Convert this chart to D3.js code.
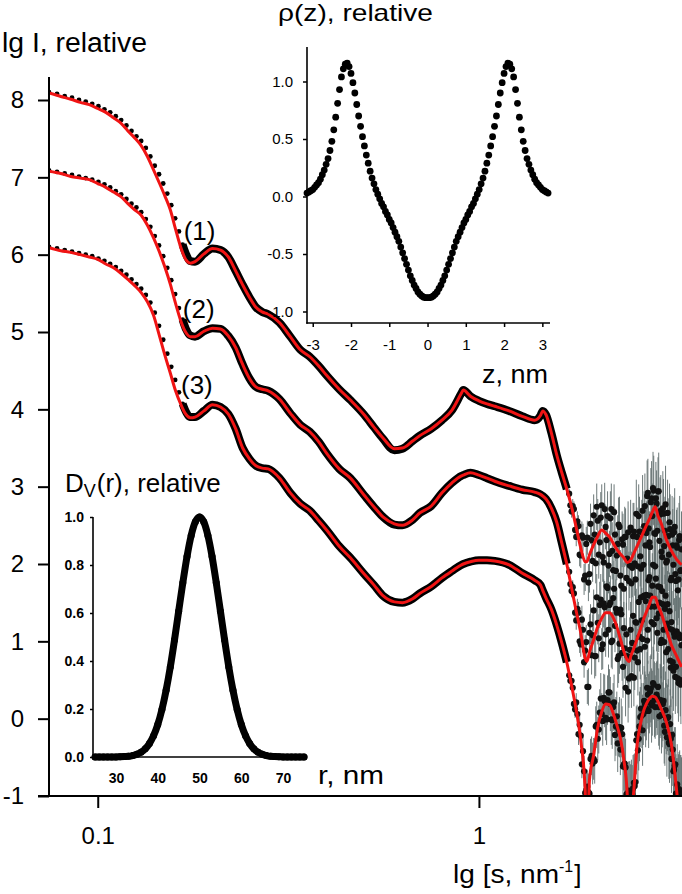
<!DOCTYPE html>
<html>
<head>
<meta charset="utf-8">
<title>Scattering curves</title>
<script src="https://cdn.jsdelivr.net/npm/d3@7"></script>
<style>
  body { margin: 0; background: #fff; }
  svg { display: block; font-family: "Liberation Sans", Arial, sans-serif; }
</style>
</head>
<body>
<svg width="682" height="894"></svg>
<script>

// ---- main plot: fitted curves (red), s in nm^-1, values are lg I
var sFit = [0.0745,0.08,0.085,0.09,0.095,0.1,0.105,0.11,0.115,0.12,
  0.125,0.13,0.135,0.14,0.145,0.15,0.155,0.16,0.165,0.17,
  0.175,0.18,0.19,0.2,0.21,0.22,0.23,0.24,0.25,0.26,
  0.27,0.28,0.3,0.32,0.34,0.36,0.38,0.4,0.43,0.46,
  0.5,0.53,0.56,0.6,0.63,0.67,0.7,0.75,0.8,0.85,
  0.9,0.91,0.95,1.0,1.05,1.1,1.2,1.3,1.4,1.45,
  1.47,1.5,1.55,1.6,1.65,1.7,1.75,1.8,1.85,1.9,
  1.92,1.95,2.0,2.05,2.1,2.15,2.2,2.25,2.3,2.35,
  2.4,2.45,2.48,2.5,2.55,2.6,2.65,2.7,2.75,2.8,
  2.85,2.9,2.95,3.0,3.1,3.2,3.3,3.4];

var fit1 = [8.09,8.045,8.01,7.97,7.94,7.89,7.84,7.77,7.70,7.60,
  7.51,7.41,7.27,7.10,6.93,6.76,6.58,6.33,6.10,5.94,
  5.89,5.91,6.01,6.08,6.06,5.97,5.79,5.61,5.45,5.32,
  5.26,5.23,5.12,4.94,4.77,4.68,4.56,4.43,4.26,4.12,
  3.93,3.77,3.63,3.49,3.50,3.59,3.66,3.75,3.86,3.99,
  4.21,4.25,4.17,4.11,4.07,4.04,3.98,3.91,3.86,3.92,
  3.98,3.93,3.69,3.41,3.18,2.97,2.74,2.47,2.21,2.03,
  2.03,2.12,2.25,2.36,2.44,2.40,2.35,2.27,2.19,2.13,
  2.08,2.02,2.03,2.05,2.14,2.23,2.32,2.41,2.50,2.58,
  2.67,2.74,2.62,2.54,2.32,2.17,2.06,1.99];

var fit2 = [7.08,7.05,7.01,6.99,6.97,6.92,6.87,6.81,6.75,6.66,
  6.58,6.51,6.38,6.22,6.04,5.84,5.62,5.37,5.15,5.00,
  4.94,4.94,5.01,5.05,5.04,4.95,4.80,4.58,4.40,4.29,
  4.26,4.24,4.13,3.95,3.80,3.71,3.58,3.42,3.23,3.11,
  2.89,2.74,2.61,2.52,2.50,2.57,2.66,2.75,2.92,3.05,
  3.14,3.15,3.18,3.15,3.11,3.07,3.01,2.96,2.93,2.90,
  2.88,2.84,2.72,2.54,2.27,2.00,1.69,1.39,1.11,0.78,
  0.74,0.86,1.02,1.19,1.30,1.37,1.37,1.31,1.19,1.03,
  0.87,0.76,0.74,0.80,0.91,1.03,1.15,1.28,1.38,1.48,
  1.57,1.57,1.46,1.38,1.16,0.95,0.81,0.67];

var fit3 = [6.09,6.05,6.03,6.00,5.97,5.94,5.88,5.83,5.76,5.68,
  5.60,5.51,5.39,5.22,4.96,4.70,4.47,4.24,4.07,3.94,
  3.89,3.90,3.98,4.06,4.03,3.94,3.75,3.50,3.36,3.27,
  3.24,3.23,3.11,2.92,2.78,2.69,2.56,2.43,2.23,2.08,
  1.87,1.73,1.59,1.51,1.50,1.55,1.62,1.71,1.82,1.91,
  1.99,2.00,2.03,2.05,2.05,2.04,1.99,1.88,1.79,1.73,
  1.66,1.56,1.41,1.21,0.98,0.73,0.43,0.11,-0.28,-0.92,
  -1.8,-0.79,-0.47,-0.11,0.09,0.19,0.18,0.07,-0.08,-0.25,
  -0.53,-0.99,-1.8,-1.4,-0.92,-0.34,-0.08,0.09,0.19,0.26,
  0.29,0.28,0.22,0.14,-0.04,-0.34,-0.92,-1.6];

// ---- experimental points, low and middle s
var sExp = [0.0745,0.0782,0.0819,0.0856,0.0893,0.093,0.0967,0.1004,0.1041,0.1078,
  0.1115,0.1152,0.1189,0.1226,0.1263,0.13,0.1337,0.1374,0.1411,0.1448,
  0.1485,0.1522,0.1559,0.1596,0.1633,0.167,0.1707,0.1744,
  0.18,0.19,0.2,0.21,0.22,0.23,0.24,0.25,0.26,0.27,
  0.28,0.3,0.32,0.34,0.36,0.38,0.4,0.43,0.46,0.5,
  0.53,0.56,0.6,0.63,0.67,0.7,0.75,0.8,0.85,0.9,
  0.91,0.95,1.0,1.05,1.1,1.2,1.3,1.4,1.45,1.47,
  1.5,1.55,1.6,1.65,1.7];

var exp1 = [8.10,8.08,8.05,8.03,8.00,7.98,7.95,7.92,7.88,7.84,
  7.79,7.74,7.67,7.60,7.53,7.47,7.38,7.27,7.15,7.04,
  6.92,6.79,6.64,6.47,6.30,6.13,6.00,5.92,
  5.91,6.01,6.08,6.06,5.97,5.79,5.61,5.45,5.32,5.26,
  5.23,5.12,4.94,4.77,4.68,4.56,4.43,4.26,4.12,3.93,
  3.77,3.62,3.47,3.49,3.59,3.66,3.75,3.86,3.99,4.21,
  4.25,4.17,4.11,4.07,4.04,3.98,3.91,3.86,3.92,3.98,
  3.93,3.69,3.41,3.18,2.97];

var exp2 = [7.09,7.07,7.05,7.03,7.01,6.99,6.97,6.94,6.91,6.87,
  6.82,6.78,6.72,6.66,6.61,6.55,6.46,6.36,6.24,6.12,
  5.98,5.83,5.67,5.49,5.31,5.16,5.03,4.96,
  4.94,5.01,5.05,5.04,4.95,4.80,4.58,4.40,4.29,4.26,
  4.24,4.13,3.95,3.80,3.71,3.58,3.42,3.23,3.11,2.89,
  2.74,2.61,2.51,2.50,2.57,2.66,2.75,2.92,3.05,3.14,
  3.15,3.18,3.15,3.11,3.07,3.01,2.96,2.93,2.90,2.88,
  2.84,2.72,2.54,2.27,2.00];

var exp3 = [6.10,6.08,6.06,6.04,6.02,6.00,5.98,5.95,5.92,5.88,
  5.84,5.79,5.74,5.68,5.62,5.56,5.48,5.38,5.25,5.08,
  4.90,4.72,4.55,4.38,4.22,4.07,3.96,3.90,
  3.90,3.98,4.06,4.03,3.94,3.75,3.50,3.36,3.27,3.24,
  3.23,3.11,2.92,2.78,2.69,2.56,2.43,2.23,2.08,1.87,
  1.73,1.59,1.51,1.50,1.55,1.62,1.71,1.82,1.91,1.99,
  2.00,2.03,2.05,2.05,2.04,1.99,1.88,1.79,1.73,1.66,
  1.56,1.41,1.21,0.98,0.73];

// ---- experimental points, noisy high-s tail (with error bars)
var sTail = [1.725,1.7375,1.75,1.7625,1.775,1.7875,1.8,1.8125,1.825,1.8375,
  1.85,1.8625,1.875,1.8875,1.9,1.9125,1.925,1.9375,1.95,1.9625,
  1.975,1.9875,2.0,2.0125,2.025,2.0375,2.05,2.0625,2.075,2.0875,
  2.1,2.1125,2.125,2.1375,2.15,2.1625,2.175,2.1875,2.2,2.2125,
  2.225,2.2375,2.25,2.2625,2.275,2.2875,2.3,2.3125,2.325,2.3375,
  2.35,2.3625,2.375,2.3875,2.4,2.4125,2.425,2.4375,2.45,2.4625,
  2.475,2.4875,2.5,2.5125,2.525,2.5375,2.55,2.5625,2.575,2.5875,
  2.6,2.6125,2.625,2.6375,2.65,2.6625,2.675,2.6875,2.7,2.7125,
  2.725,2.7375,2.75,2.7625,2.775,2.7875,2.8,2.8125,2.825,2.8375,
  2.85,2.8625,2.875,2.8875,2.9,2.9125,2.925,2.9375,2.95,2.9625,
  2.975,2.9875,3.0,3.0125,3.025,3.0375,3.05,3.0625,3.075,3.0875,
  3.1,3.1125,3.125,3.1375,3.15,3.1625,3.175,3.1875,3.2,3.2125,
  3.225,3.2375,3.25,3.2625,3.275,3.2875,3.3,3.3125,3.325,3.3375,
  3.35,3.3625,3.375,3.3875,3.4];

var tail1 = [2.91,2.76,2.68,2.75,2.71,2.44,2.35,2.55,2.49,2.12,
  2.11,2.37,2.34,1.80,1.85,2.26,2.34,1.76,1.87,2.52,
  2.31,2.04,2.63,2.38,2.01,2.74,2.56,2.12,2.28,2.60,
  2.76,2.09,2.02,2.71,2.48,2.31,2.62,1.98,2.13,2.59,
  2.71,2.17,1.92,2.67,2.38,1.91,2.11,2.26,2.51,2.48,
  1.85,1.72,2.32,2.25,1.68,2.35,2.35,1.82,2.07,2.41,
  1.78,1.98,2.47,1.75,1.95,2.36,2.42,2.01,1.80,2.65,
  2.35,1.97,2.62,2.42,2.10,1.94,2.41,2.69,1.99,2.49,
  2.75,2.24,2.40,2.88,2.92,2.46,2.28,2.22,2.80,2.85,
  2.62,2.98,2.95,2.40,2.39,2.85,2.78,2.43,2.94,2.94,
  2.30,2.64,2.69,2.16,2.09,2.72,2.65,2.23,2.43,2.77,
  2.02,2.04,2.66,2.36,2.12,2.54,2.45,1.79,1.82,2.38,
  2.24,1.99,2.41,2.48,1.87,1.78,2.24,2.21,1.66,1.80,
  2.31,2.36,1.91,1.92,2.19];

var tail2 = [1.90,1.74,1.65,1.70,1.62,1.37,1.27,1.42,1.37,1.00,
  0.96,1.28,1.15,0.73,0.88,0.99,0.41,0.41,1.11,1.22,
  0.82,1.08,1.40,0.81,0.81,1.57,1.24,1.04,1.47,1.54,
  0.90,0.96,1.49,1.44,1.09,1.71,1.69,1.15,1.47,1.50,
  0.99,1.01,1.56,1.68,1.20,1.42,1.37,0.77,0.81,0.97,
  1.41,1.35,0.85,0.67,1.17,0.91,0.40,1.09,0.81,0.35,
  0.52,0.89,1.15,0.55,0.98,1.33,0.53,0.79,1.25,1.24,
  0.88,0.73,1.51,1.06,0.90,1.57,1.27,1.03,1.58,1.59,
  0.93,1.52,1.60,1.01,1.15,1.79,1.83,1.59,1.45,1.25,
  1.72,1.99,1.22,1.45,1.97,1.81,1.30,1.11,1.71,1.36,
  1.50,1.70,0.98,1.02,1.65,1.48,1.15,0.99,1.42,1.59,
  0.86,1.23,1.48,0.90,1.17,1.39,0.75,0.66,1.25,1.15,
  0.73,0.62,1.10,1.06,0.54,0.67,1.13,1.09,0.52,0.46,
  1.09,1.04,0.50,0.44,0.95];

var tail3 = [0.56,0.49,0.49,0.40,0.19,0.12,0.21,0.06,-0.20,-0.08,
  -0.22,-0.59,-0.42,-0.68,-0.96,-0.92,-0.88,-0.95,-0.97,-0.52,
  -0.48,-0.58,-0.52,-0.55,-0.10,-0.08,-0.26,-0.14,0.08,0.26,
  0.06,-0.03,0.27,0.23,0.01,-0.01,0.24,0.34,0.34,0.19,
  -0.01,-0.02,0.15,0.21,-0.21,-0.10,0.03,-0.32,-0.14,-0.11,
  -0.40,-0.12,-0.20,-0.62,-0.59,-0.58,-0.63,-0.98,-0.97,-0.96,
  -0.93,-0.97,-0.95,-0.94,-0.98,-0.90,-0.83,-0.87,-0.82,-0.28,
  -0.20,-0.41,-0.26,-0.10,0.02,0.13,0.04,-0.15,0.06,0.23,
  0.19,0.10,0.13,0.40,0.31,0.10,0.21,0.35,0.39,0.17,
  0.20,0.46,0.44,0.25,0.15,0.25,0.31,0.27,0.41,0.15,
  0.03,0.23,0.24,0.05,0.05,0.19,0.23,-0.09,-0.17,0.11,
  0.00,-0.24,0.01,0.02,-0.31,-0.33,-0.07,-0.26,-0.52,-0.21,
  -0.40,-0.68,-0.66,-0.61,-0.59,-0.97,-0.97,-0.85,-0.96,-0.96,
  -0.91,-0.93,-0.94,-0.98,-0.99];

var tailErr = [0.06,0.07,0.08,0.09,0.10,0.11,0.12,0.13,0.14,0.15,
  0.16,0.18,0.18,0.20,0.20,0.22,0.22,0.24,0.24,0.26,
  0.25,0.27,0.27,0.29,0.26,0.30,0.28,0.31,0.30,0.33,
  0.27,0.32,0.31,0.34,0.29,0.33,0.32,0.36,0.30,0.35,
  0.33,0.37,0.31,0.36,0.34,0.38,0.32,0.37,0.35,0.39,
  0.33,0.38,0.36,0.40,0.34,0.39,0.37,0.41,0.35,0.40,
  0.38,0.42,0.36,0.41,0.38,0.43,0.37,0.42,0.40,0.44,
  0.38,0.43,0.41,0.45,0.39,0.44,0.42,0.46,0.40,0.45,
  0.42,0.47,0.41,0.46,0.44,0.48,0.40,0.46,0.44,0.48,
  0.42,0.47,0.45,0.49,0.41,0.47,0.43,0.48,0.44,0.50,
  0.43,0.48,0.46,0.50,0.42,0.48,0.45,0.49,0.44,0.50,
  0.46,0.51,0.43,0.49,0.47,0.50,0.45,0.51,0.44,0.50,
  0.47,0.52,0.45,0.50,0.48,0.51,0.46,0.52,0.45,0.50,
  0.48,0.52,0.47,0.51,0.49];

var curveNames = ["(1)", "(2)", "(3)"];
var mainYTicks = [-1, 0, 1, 2, 3, 4, 5, 6, 7, 8];
var mainXTicks = [0.1, 1];

// ---- inset: density profile
var zRho = [-3.15,-3.1,-3.05,-3.0,-2.95,-2.9,-2.85,-2.8,-2.75,-2.7,
  -2.65,-2.6,-2.55,-2.5,-2.45,-2.4,-2.35,-2.3,-2.25,-2.2,
  -2.15,-2.1,-2.05,-2.0,-1.95,-1.9,-1.85,-1.8,-1.75,-1.7,
  -1.65,-1.6,-1.55,-1.5,-1.45,-1.4,-1.35,-1.3,-1.25,-1.2,
  -1.15,-1.1,-1.05,-1.0,-0.95,-0.9,-0.85,-0.8,-0.75,-0.7,
  -0.65,-0.6,-0.55,-0.5,-0.45,-0.4,-0.35,-0.3,-0.25,-0.2,
  -0.15,-0.1,-0.05,0,0.05,0.1,0.15,0.2,0.25,0.3,
  0.35,0.4,0.45,0.5,0.55,0.6,0.65,0.7,0.75,0.8,
  0.85,0.9,0.95,1.0,1.05,1.1,1.15,1.2,1.25,1.3,
  1.35,1.4,1.45,1.5,1.55,1.6,1.65,1.7,1.75,1.8,
  1.85,1.9,1.95,2.0,2.05,2.1,2.15,2.2,2.25,2.3,
  2.35,2.4,2.45,2.5,2.55,2.6,2.65,2.7,2.75,2.8,
  2.85,2.9,2.95,3.0,3.05,3.1,3.15];

var rho = [0.03,0.04,0.05,0.06,0.08,0.10,0.12,0.15,0.19,0.23,
  0.28,0.33,0.40,0.48,0.58,0.69,0.81,0.93,1.04,1.11,
  1.15,1.16,1.13,1.07,0.99,0.90,0.80,0.70,0.61,0.52,
  0.44,0.36,0.29,0.22,0.16,0.11,0.06,0.02,-0.02,-0.06,
  -0.09,-0.13,-0.16,-0.20,-0.23,-0.27,-0.31,-0.35,-0.39,-0.44,
  -0.49,-0.54,-0.59,-0.64,-0.69,-0.73,-0.77,-0.80,-0.83,-0.85,
  -0.865,-0.875,-0.88,-0.88,-0.88,-0.875,-0.865,-0.85,-0.83,-0.80,
  -0.77,-0.73,-0.69,-0.64,-0.59,-0.54,-0.49,-0.44,-0.39,-0.35,
  -0.31,-0.27,-0.23,-0.20,-0.16,-0.13,-0.09,-0.06,-0.02,0.02,
  0.06,0.11,0.16,0.22,0.29,0.36,0.44,0.52,0.61,0.70,
  0.80,0.90,0.99,1.07,1.13,1.16,1.15,1.11,1.04,0.93,
  0.81,0.69,0.58,0.48,0.40,0.33,0.28,0.23,0.19,0.15,
  0.12,0.10,0.08,0.06,0.05,0.04,0.03];

var rhoXTicks = [-3, -2, -1, 0, 1, 2, 3];
var rhoYTicks = [-1, -0.5, 0, 0.5, 1];

// ---- inset: size distribution
var rDist = [25,26,27,28,29,30,31,32,33,34,
  35,36,37,38,39,40,41,42,43,44,
  45,46,47,48,49,50,51,52,53,54,
  55,56,57,58,59,60,61,62,63,64,
  65,66,67,68,69,70,71,72,73,74,75];

var dv = [0,0,0,0,0,0,0.001,0.002,0.003,0.006,
  0.011,0.020,0.034,0.056,0.089,0.135,0.198,0.278,0.375,0.487,
  0.607,0.726,0.835,0.923,0.980,1.000,0.980,0.923,0.835,0.726,
  0.607,0.487,0.375,0.278,0.198,0.135,0.089,0.056,0.034,0.020,
  0.011,0.006,0.003,0.002,0.001,0,0,0,0,0,0];

var dvXTicks = [30, 40, 50, 60, 70];
var dvYTicks = [0, 0.2, 0.4, 0.6, 0.8, 1.0];

// =====================================================
var svg = d3.select("svg");
var RED = "#f01414";

var x = d3.scaleLog().domain([0.0745, 3.41]).range([49, 682]);
var y = d3.scaleLinear().domain([-1, 8]).range([796, 100]);

svg.append("clipPath").attr("id", "plotClip")
  .append("rect").attr("x", 49).attr("y", 40).attr("width", 640).attr("height", 756);

var plot = svg.append("g").attr("clip-path", "url(#plotClip)");

var fits = [fit1, fit2, fit3],
    exps = [exp1, exp2, exp3],
    tails = [tail1, tail2, tail3];

// error bars of the noisy tail
tails.forEach(function(t) {
  plot.append("g").selectAll("line").data(t).enter().append("line")
    .attr("x1", function(d, i) { return x(sTail[i]); })
    .attr("x2", function(d, i) { return x(sTail[i]); })
    .attr("y1", function(d, i) { return y(d - tailErr[i]); })
    .attr("y2", function(d, i) { return y(d + tailErr[i]); })
    .attr("stroke", "#5e6c6c")
    .attr("stroke-width", 1)
    .attr("stroke-opacity", 0.9);
});

// dense experimental band + sparse points at low s
var bandLine = d3.line()
  .x(function(d) { return x(d[0]); })
  .y(function(d) { return y(d[1]); })
  .curve(d3.curveMonotoneX);

exps.forEach(function(e) {
  var pts = sExp.map(function(s, i) { return [s, e[i]]; });
  plot.append("path")
    .datum(pts.filter(function(d) { return d[0] >= 0.166; }))
    .attr("fill", "none")
    .attr("stroke", "#000")
    .attr("stroke-width", 8)
    .attr("stroke-linejoin", "round")
    .attr("d", bandLine);
  plot.append("g").selectAll("circle")
    .data(pts.filter(function(d) { return d[0] < 0.17; }))
    .enter().append("circle")
    .attr("cx", function(d) { return x(d[0]); })
    .attr("cy", function(d) { return y(d[1]); })
    .attr("r", 2.4)
    .attr("fill", "#000");
});

tails.forEach(function(t) {
  plot.append("g").selectAll("circle").data(t).enter().append("circle")
    .attr("cx", function(d, i) { return x(sTail[i]); })
    .attr("cy", function(d) { return y(d); })
    .attr("r", 3.1)
    .attr("fill", "#111");
});

// fitted curves
var fitLine = d3.line()
  .x(function(d, i) { return x(sFit[i]); })
  .y(function(d) { return y(d); })
  .curve(d3.curveMonotoneX);

fits.forEach(function(f) {
  plot.append("path")
    .datum(f)
    .attr("fill", "none")
    .attr("stroke", RED)
    .attr("stroke-width", 3)
    .attr("d", fitLine);
});

// curve labels
var labelAt = [[0.185, 6.19], [0.184, 5.18], [0.182, 4.20]];
svg.append("g").selectAll("text").data(curveNames).enter().append("text")
  .attr("x", function(d, i) { return x(labelAt[i][0]); })
  .attr("y", function(d, i) { return y(labelAt[i][1]); })
  .attr("text-anchor", "middle")
  .attr("font-size", 26)
  .text(function(d) { return d; });

// main axes
var yAxis = svg.append("g")
  .attr("transform", "translate(49,0)")
  .call(d3.axisLeft(y).tickValues(mainYTicks).tickSize(11).tickSizeOuter(0).tickPadding(14)
    .tickFormat(function(d) { return String(d); }));
yAxis.select(".domain").remove();
yAxis.selectAll("line").attr("stroke-width", 2);
yAxis.selectAll("text").attr("font-size", 24).attr("font-family", null).attr("fill", "#000");

var xAxis = svg.append("g")
  .attr("transform", "translate(0,796)")
  .call(d3.axisBottom(x).tickValues(mainXTicks).tickSize(12).tickSizeOuter(0).tickPadding(19)
    .tickFormat(function(d) { return d < 1 ? "0.1" : "1"; }));
xAxis.select(".domain").remove();
xAxis.selectAll("line").attr("stroke-width", 2);
xAxis.selectAll("text").attr("font-size", 24).attr("font-family", null).attr("fill", "#000");

svg.append("line").attr("x1", 49).attr("x2", 49).attr("y1", 77).attr("y2", 797)
  .attr("stroke", "#000").attr("stroke-width", 2);
svg.append("line").attr("x1", 38).attr("x2", 682).attr("y1", 796).attr("y2", 796)
  .attr("stroke", "#000").attr("stroke-width", 2);

svg.append("text").attr("x", 2).attr("y", 52).attr("font-size", 27)
  .attr("textLength", 145).attr("lengthAdjust", "spacingAndGlyphs")
  .text("lg I, relative");

var xl = svg.append("text").attr("x", 453).attr("y", 883).attr("font-size", 26);
xl.append("tspan").attr("textLength", 106).attr("lengthAdjust", "spacingAndGlyphs").text("lg [s, nm");
xl.append("tspan").attr("font-size", 16).attr("dy", -11).text("-1");
xl.append("tspan").attr("dy", 11).attr("dx", 1).text("]");

// ---- inset: rho(z)
var zx = d3.scaleLinear().domain([-3.15, 3.2]).range([307, 550]);
var zy = d3.scaleLinear().domain([-1.1, 1.3]).range([323, 47]);

var g1 = svg.append("g");
var ax1 = g1.append("g").attr("transform", "translate(307,0)")
  .call(d3.axisLeft(zy).tickValues(rhoYTicks).tickSize(4).tickSizeOuter(0).tickPadding(10)
    .tickFormat(function(d) { return d.toFixed(1); }));
var ax2 = g1.append("g").attr("transform", "translate(0,323)")
  .call(d3.axisBottom(zx).tickValues(rhoXTicks).tickSize(4).tickSizeOuter(0).tickPadding(12)
    .tickFormat(function(d) { return String(d); }));
[ax1, ax2].forEach(function(a) {
  a.select(".domain").remove();
  a.selectAll("line").attr("stroke-width", 1.5);
  a.selectAll("text").attr("font-size", 15).attr("font-family", null).attr("fill", "#000");
});
g1.append("line").attr("x1", 307).attr("x2", 307).attr("y1", 47).attr("y2", 323.7)
  .attr("stroke", "#000").attr("stroke-width", 1.6);
g1.append("line").attr("x1", 306.3).attr("x2", 550).attr("y1", 323).attr("y2", 323)
  .attr("stroke", "#000").attr("stroke-width", 1.6);

g1.append("g").selectAll("circle").data(rho).enter().append("circle")
  .attr("cx", function(d, i) { return zx(zRho[i]); })
  .attr("cy", function(d) { return zy(d); })
  .attr("r", 3.4)
  .attr("fill", "#000");

g1.append("text").attr("x", 278).attr("y", 21).attr("font-size", 24)
  .attr("textLength", 155).attr("lengthAdjust", "spacingAndGlyphs")
  .text("\u03c1(z), relative");
g1.append("text").attr("x", 482).attr("y", 383).attr("font-size", 26)
  .attr("textLength", 66).attr("lengthAdjust", "spacingAndGlyphs")
  .text("z, nm");

// ---- inset: Dv(r)
var rx = d3.scaleLinear().domain([24.5, 75]).range([93, 304]);
var ry = d3.scaleLinear().domain([0, 1]).range([757, 517]);

var g2 = svg.append("g");
var bx1 = g2.append("g").attr("transform", "translate(93,0)")
  .call(d3.axisLeft(ry).tickValues(dvYTicks).tickSize(3).tickSizeOuter(0).tickPadding(6)
    .tickFormat(function(d) { return d.toFixed(1); }));
var bx2 = g2.append("g").attr("transform", "translate(0,757)")
  .call(d3.axisBottom(rx).tickValues(dvXTicks).tickSize(0).tickSizeOuter(0).tickPadding(16)
    .tickFormat(function(d) { return String(d); }));
[bx1, bx2].forEach(function(a) {
  a.select(".domain").remove();
  a.selectAll("line").attr("stroke-width", 1.5);
  a.selectAll("text").attr("font-size", 14).attr("font-weight", "bold")
    .attr("font-family", null).attr("fill", "#000");
});
g2.append("line").attr("x1", 93).attr("x2", 93).attr("y1", 517).attr("y2", 757.7)
  .attr("stroke", "#000").attr("stroke-width", 1.6);
g2.append("line").attr("x1", 92.3).attr("x2", 304).attr("y1", 757).attr("y2", 757)
  .attr("stroke", "#000").attr("stroke-width", 1.6);

var dvLine = d3.line()
  .x(function(d, i) { return rx(rDist[i]); })
  .y(function(d) { return ry(d); })
  .curve(d3.curveMonotoneX);
g2.append("path").datum(dv)
  .attr("fill", "none").attr("stroke", "#000").attr("stroke-width", 7)
  .attr("stroke-linecap", "round").attr("d", dvLine);
g2.append("g").selectAll("circle").data(dv).enter().append("circle")
  .attr("cx", function(d, i) { return rx(rDist[i]); })
  .attr("cy", function(d) { return ry(d); })
  .attr("r", 3.5)
  .attr("fill", "#000");

var t2 = g2.append("text").attr("x", 65).attr("y", 492).attr("font-size", 26);
t2.append("tspan").text("D");
t2.append("tspan").attr("font-size", 18).attr("dy", 5).text("V");
t2.append("tspan").attr("dy", -5).attr("dx", 1)
  .attr("textLength", 124).attr("lengthAdjust", "spacingAndGlyphs").text("(r), relative");
g2.append("text").attr("x", 318).attr("y", 784).attr("font-size", 26)
  .attr("textLength", 66).attr("lengthAdjust", "spacingAndGlyphs")
  .text("r, nm");

</script>
</body>
</html>
